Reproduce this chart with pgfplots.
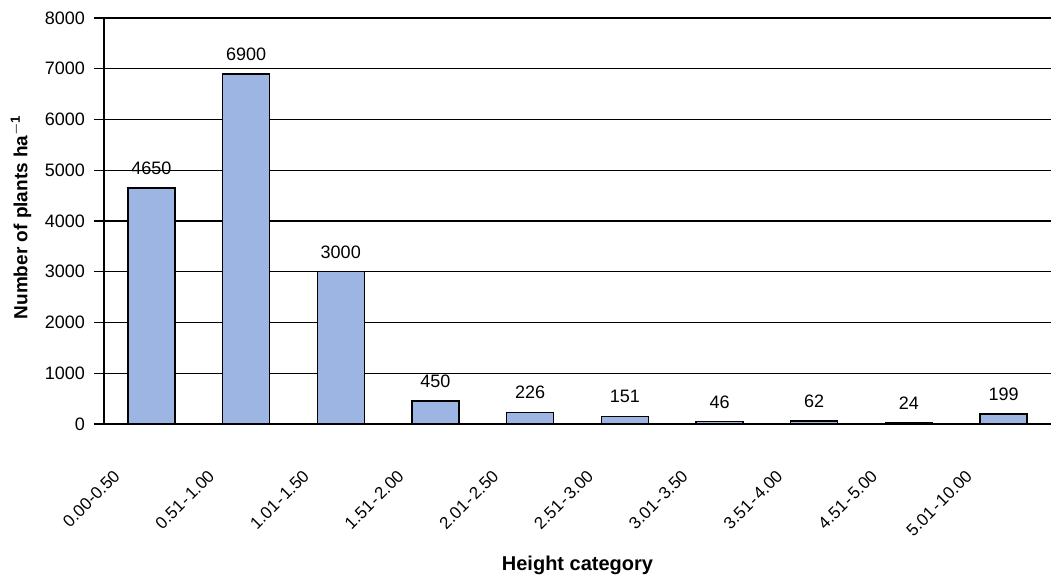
\documentclass[border=0pt]{standalone}
\usepackage{pgfplots}
\pgfplotsset{compat=1.18}
\usepackage{fontspec}
\setmainfont{Liberation Sans}
\definecolor{barblue}{RGB}{157,181,227}
% height range with a tight dash
\newcommand\rg[2]{#1\kern0.8pt-\kern0.8pt#2}

\pgfplotstableread{
x  n
0  4650
1  6900
2  3000
3  450
4  226
5  151
6  46
7  62
8  24
9  199
}\plants

\begin{document}
\begin{tikzpicture}
\useasboundingbox (-52pt,-75.5pt) rectangle (473.5pt,212pt);
\begin{axis}[
  scale only axis,
  width=473.5pt, height=203pt,
  xmin=-0.5, xmax=9.5,
  ymin=0, ymax=8000,
  ytick={0,1000,...,8000},
  xtick={0,...,9},
  xticklabels={0.00-0.50, \rg{0.51}{1.00}, \rg{1.01}{1.50}, \rg{1.51}{2.00}, \rg{2.01}{2.50},
    \rg{2.51}{3.00}, \rg{3.01}{3.50}, \rg{3.51}{4.00}, \rg{4.51}{5.00}, \rg{5.01}{10.00}},
  extra x ticks={-0.5,0.5,...,9.5},
  extra x tick labels={},
  extra x tick style={major tick length=5pt, tick style={black, line width=0.7pt}},
  major x tick style={draw=none},
  axis lines*=left,
  axis line style={black, line width=0.7pt},
  tick align=outside,
  major tick length=5pt,
  tick style={black, line width=0.7pt},
  ymajorgrids,
  grid style={black, line width=0.7pt},
  /pgf/number format/assume math mode=true,
  /pgf/number format/1000 sep={},
  yticklabel style={font=\fontsize{9}{10}\selectfont, xshift=-1pt},
  xticklabel style={font=\fontsize{8.5}{10}\selectfont, rotate=45, anchor=north east,
    xshift=-26pt, yshift=1.6pt, inner sep=0pt},
  ylabel={\bfseries Number of plants ha$^{\mathbf{-1}}$},
  ylabel style={font=\fontsize{9.5}{10}\selectfont,
    at={(axis description cs:-0.0876,0.51)}, anchor=center},
  xlabel={\bfseries Height category},
  xlabel style={font=\fontsize{10}{12}\selectfont,
    at={(axis description cs:0.5,-0.347)}, anchor=center},
  clip=false,
]
\addplot[ybar, bar width=23.5pt, fill=barblue, draw=black, line width=0.7pt,
  nodes near coords, nodes near coords align={vertical},
  every node near coord/.append style={font=\fontsize{9}{10}\selectfont, black, yshift=3pt}]
  table[x=x, y=n] {\plants};
\end{axis}
\end{tikzpicture}
\end{document}
